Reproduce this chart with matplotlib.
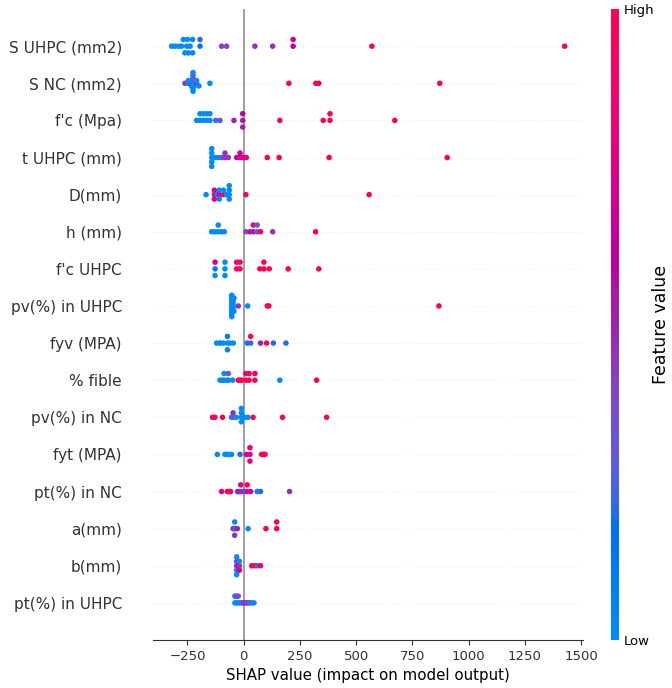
import numpy as np
import matplotlib
matplotlib.use("Agg")
import matplotlib.pyplot as plt
from matplotlib.colors import LinearSegmentedColormap, Normalize
from matplotlib.cm import ScalarMappable

# ---------------- data (top row first) ----------------
features = ["S UHPC (mm2)", "S NC (mm2)", "f'c (Mpa)", "t UHPC (mm)", "D(mm)",
            "h (mm)", "f'c UHPC", "pv(%) in UHPC", "fyv (MPA)", "% fible",
            "pv(%) in NC", "fyt (MPA)", "pt(%) in NC", "a(mm)", "b(mm)", "pt(%) in UHPC"]

s_uhpc_shap = [-320, -305, -290, -276, -268, -261, -253, -250, -246, -238, -227, -227,
               -194, -194, -98, -76, 50, 129, 220, 220, 570, 1427]
s_uhpc_feat = [0, 0, 0, 0, 0, 0, 0, 0, 0, 0, 0, 0.05, 0.15, 0.2, 0.4, 0.4, 0.45, 0.45,
               0.6, 0.65, 1, 1]

s_nc_shap = [-261, -246, -246, -231, -231, -231, -225, -225, -225, -225, -225,
             -220, -220, -220, -209, -209, -199, -150, 201, 321, 334, 872]
s_nc_feat = [0.4, 0.3, 0, 0, 0, 0.05, 0, 0, 0.35, 0, 0, 0, 0.35, 0, 0.45, 0, 0, 0,
             1, 1, 1, 1]

fc_shap = [-209, -194, -194, -179, -179, -164, -164, -150, -150, -124, -105, -43,
           -4, -4, -4, 161, 354, 384, 384, 672]
fc_feat = [0, 0, 0, 0, 0, 0, 0, 0, 0, 0.25, 0.3, 0.5, 0.55, 0.6, 0.5, 0.85, 1, 1, 1, 1]

t_uhpc_shap = [-142, -142, -142, -142, -142, -128, -113, -98, -83, -83, -68, -31,
               -16, -16, -4, 5, 12, 105, 158, 380, 905]
t_uhpc_feat = [0, 0, 0, 0, 0, 0, 0, 0.3, 0.45, 0.45, 0.45, 0.6, 0.7, 0.65, 0.7, 0.75,
               0.8, 1, 1, 1, 1]

d_shap = [-167, -130, -130, -130, -118, -108, -108, -108, -90, -90, -76,
          -64, -64, -64, -64, 10, 558]
d_feat = [0, 0.8, 0.7, 0.75, 0, 0.75, 0, 0, 0.95, 0, 0, 0, 0, 0, 0, 1, 1]

h_shap = [-142, -128, -113, -113, -98, -86, 10, 28, 43, 43, 60, 60, 75, 129, 320]
h_feat = [0, 0, 0, 0, 0, 0, 0.35, 0.75, 0.5, 0.8, 0.3, 0.35, 0.95, 0.45, 1]

fc_uhpc_shap = [-127, -127, -127, -83, -83, -83, -31, -31, -16, -16, 72, 90, 90,
                114, 198, 334]
fc_uhpc_feat = [0.1, 0.75, 0, 0, 0, 0, 0.9, 0.85, 1, 0.95, 1, 1, 1, 1, 1, 1]

pv_uhpc_shap = [-53, -53, -53, -53, -53, -53, -53, -53, -53, -47, -47, -47, -47,
                -43, -43, -24, 18, 105, 112, 868]
pv_uhpc_feat = [0, 0, 0, 0, 0, 0, 0, 0, 0, 0, 0, 0, 0, 0, 0, 0.45, 0, 1, 1, 1]

fyv_shap = [-120, -105, -90, -72, -72, -72, -61, -46, 16, 31, 31, 75, 102, 132, 188]
fyv_feat = [0, 0.05, 0, 0, 0.1, 0.05, 0, 0, 0.2, 0.2, 1, 0.5, 1, 0.2, 0.2]

fible_shap = [-105, -95, -87, -87, -75, -68, -68, -49, -24, -16, -9, 10, 10, 24, 24,
              50, 50, 161, 324]
fible_feat = [0, 0, 0, 0, 0, 0, 0.3, 0, 1, 1, 1, 1, 0.8, 1, 0.9, 1, 1, 0, 1]

pv_nc_shap = [-138, -128, -94, -54, -47, -47, -32, -10, -10, -10, -10, 5, 19,
              42, 173, 369]
pv_nc_feat = [1, 1, 1, 0, 0.3, 0.45, 0, 0, 0, 0, 0, 0, 0, 1, 1, 1]

fyt_shap = [-117, -83, -75, -68, -54, -16, 13, 28, 28, 28, 80, 88, 95]
fyt_feat = [0, 0, 0, 0, 0, 0.2, 0.7, 0.75, 0.8, 0.75, 1, 1, 1]

pt_nc_shap = [-98, -72, -65, -58, -28, -20, -13, -13, 1, 8, 16, 16, 31, 60, 75, 204]
pt_nc_feat = [0.75, 1, 0.9, 1, 0, 0.6, 0.45, 0.8, 0.7, 0, 0.8, 1, 0.7, 0, 0.2, 0.45]

a_shap = [-47, -40, -40, -40, -36, -28, 20, 99, 147, 147]
a_feat = [0.45, 0.5, 0, 0.45, 0, 0.5, 0, 1, 1, 1]

b_shap = [-31, -31, -31, -31, -31, -24, -19, -19, -19, 36, 50, 61, 75]
b_feat = [0.5, 0.45, 0, 0, 0, 1, 0.45, 0, 0.7, 1, 1, 0.2, 1]

pt_uhpc_shap = [-39, -39, -31, -31, -24, -24, -16, -9, 0, 6, 13, 20, 28, 35, 46]
pt_uhpc_feat = [0, 0, 0, 0.4, 0, 0.35, 0, 0, 0.45, 0.5, 0.4, 0.45, 0, 0.3, 0]

shap_rows = [s_uhpc_shap, s_nc_shap, fc_shap, t_uhpc_shap, d_shap, h_shap, fc_uhpc_shap,
             pv_uhpc_shap, fyv_shap, fible_shap, pv_nc_shap, fyt_shap, pt_nc_shap,
             a_shap, b_shap, pt_uhpc_shap]
feat_rows = [s_uhpc_feat, s_nc_feat, fc_feat, t_uhpc_feat, d_feat, h_feat, fc_uhpc_feat,
             pv_uhpc_feat, fyv_feat, fible_feat, pv_nc_feat, fyt_feat, pt_nc_feat,
             a_feat, b_feat, pt_uhpc_feat]

x_ticks = [-250, 0, 250, 500, 750, 1000, 1250, 1500]


# ---------------- SHAP red_blue colormap (LCH interpolation) ----------------
def lab2rgb(L, a, b):
    fy = (L + 16.0) / 116.0
    fx = fy + a / 500.0
    fz = fy - b / 200.0

    def finv(t):
        return np.where(t > 6 / 29, t ** 3, 3 * (6 / 29) ** 2 * (t - 4 / 29))

    X = 0.95047 * finv(fx)
    Y = 1.0 * finv(fy)
    Z = 1.08883 * finv(fz)
    M = np.array([[3.2406, -1.5372, -0.4986],
                  [-0.9689, 1.8758, 0.0415],
                  [0.0557, -0.2040, 1.0570]])
    lin = M @ np.array([X, Y, Z])
    lin = np.clip(lin, 0, None)
    rgb = np.where(lin > 0.0031308, 1.055 * lin ** (1 / 2.4) - 0.055, 12.92 * lin)
    return np.clip(rgb, 0, 1)


blue_lch = [54., 70., 4.6588]
l_mid = 40.
red_lch = [54., 90., 0.35470565 + 2 * np.pi]
nsteps = 100
l_vals = list(np.linspace(blue_lch[0], l_mid, nsteps // 2)) + list(np.linspace(l_mid, red_lch[0], nsteps // 2))
c_vals = np.linspace(blue_lch[1], red_lch[1], nsteps)
h_vals = np.linspace(blue_lch[2], red_lch[2], nsteps)
cols = []
for l, c, h in zip(l_vals, c_vals, h_vals):
    cols.append(lab2rgb(l, np.cos(h) * c, np.sin(h) * c))
red_blue = LinearSegmentedColormap.from_list("red_blue", cols)

# ---------------- figure ----------------
fig = plt.figure(figsize=(6.72, 6.88), dpi=100)
ax = fig.add_axes([0.227, 0.0698, 0.641, 0.917])
cax = fig.add_axes([0.909, 0.0698, 0.012, 0.917])

N = len(features)
row_height = 0.4
nbins = 100
ax.axvline(x=0, color="#999999", zorder=-1, lw=1.3)
for i, (sv, fv) in enumerate(zip(shap_rows, feat_rows)):
    pos = N - 1 - i
    ax.axhline(y=pos, color="#cccccc", lw=0.5, dashes=(1, 5), zorder=-1)
    shaps = np.array(sv, dtype=float)
    fvals = np.array(fv, dtype=float)
    quant = np.round(nbins * (shaps - shaps.min()) / (shaps.max() - shaps.min() + 1e-8))
    inds = np.argsort(quant, kind="stable")
    layer = 0
    last_bin = -1
    ys = np.zeros(len(shaps))
    for ind in inds:
        if quant[ind] != last_bin:
            layer = 0
        ys[ind] = np.ceil(layer / 2) * ((layer % 2) * 2 - 1)
        layer += 1
        last_bin = quant[ind]
    ys *= 0.9 * (row_height / np.max(ys + 1))
    ax.scatter(shaps, pos + ys, c=fvals, cmap=red_blue, vmin=0, vmax=1, s=16,
               linewidth=0, alpha=1, zorder=3)

ax.set_ylim(-1, N)
ax.set_xlim(-405, 1510)
ax.set_yticks(range(N))
ax.set_yticklabels(features[::-1], fontsize=11)
ax.set_xticks(x_ticks)
for s in ["top", "right", "left"]:
    ax.spines[s].set_visible(False)
ax.spines["bottom"].set_color("#333333")
ax.tick_params(axis="y", length=0, colors="#333333", pad=22)
ax.tick_params(axis="x", labelsize=9.5, color="#333333", labelcolor="#333333")
ax.set_xlabel("SHAP value (impact on model output)", fontsize=10.8)

sm = ScalarMappable(norm=Normalize(0, 1), cmap=red_blue)
cb = fig.colorbar(sm, cax=cax, ticks=[0, 1])
cb.set_ticklabels(["Low", "High"])
cb.ax.tick_params(labelsize=9.5, length=0)
cb.set_label("Feature value", size=12.5, labelpad=-2)
cb.outline.set_visible(False)

fig.savefig("out.png", dpi=100)
